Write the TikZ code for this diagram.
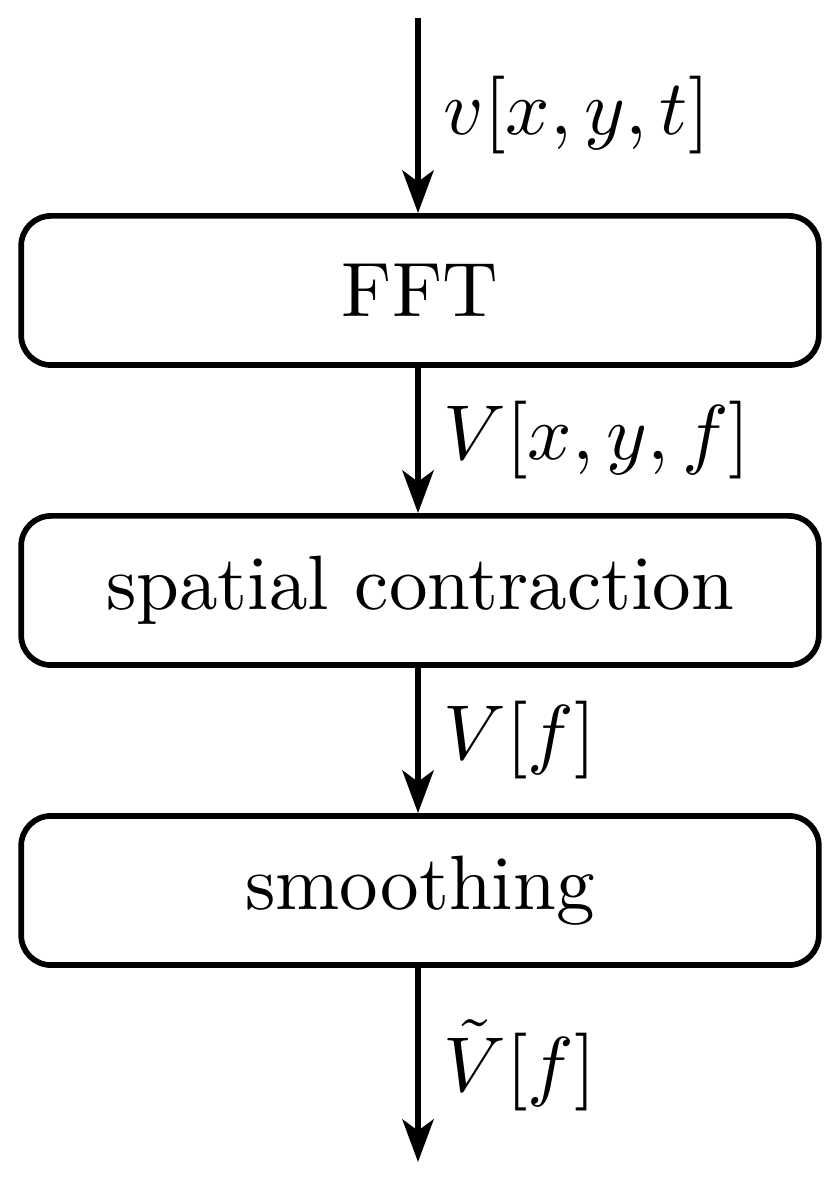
\documentclass[tikz,border=0pt]{standalone}
\usetikzlibrary{arrows.meta}
\begin{document}
\begin{tikzpicture}[x=0.1408pt,y=-0.1408pt,
  font=\fontsize{10.85pt}{13pt}\selectfont,
  procbox/.style={draw,line width=0.8pt,rounded corners=4.2pt,minimum width=112.3pt,minimum height=21pt,inner sep=0pt},
  flow/.style={line width=0.8pt,-{Stealth[length=6pt,width=4.4pt,inset=1.6pt]}},
  lbl/.style={midway,right,inner sep=3.2pt}]
\useasboundingbox (0,0) rectangle (840,1179);
\coordinate (in) at (418,18);
\node[procbox] (fft) at (420,290.5) {FFT};
\node[procbox] (sp) at (420,590.5) {spatial contraction};
\node[procbox] (sm) at (420,890.5) {smoothing};
\coordinate (out) at (418,1162);
\draw[flow] (in) -- (in |- fft.north) node[lbl] {$v[x,y,t]$};
\draw[flow] (fft.south -| in) -- (in |- sp.north) node[lbl] {$V[x,y,f]$};
\draw[flow] (sp.south -| in) -- (in |- sm.north) node[lbl] {$V[f]$};
\draw[flow] (sm.south -| in) -- (out) node[lbl] {$\tilde V[f]$};
\end{tikzpicture}
\end{document}
